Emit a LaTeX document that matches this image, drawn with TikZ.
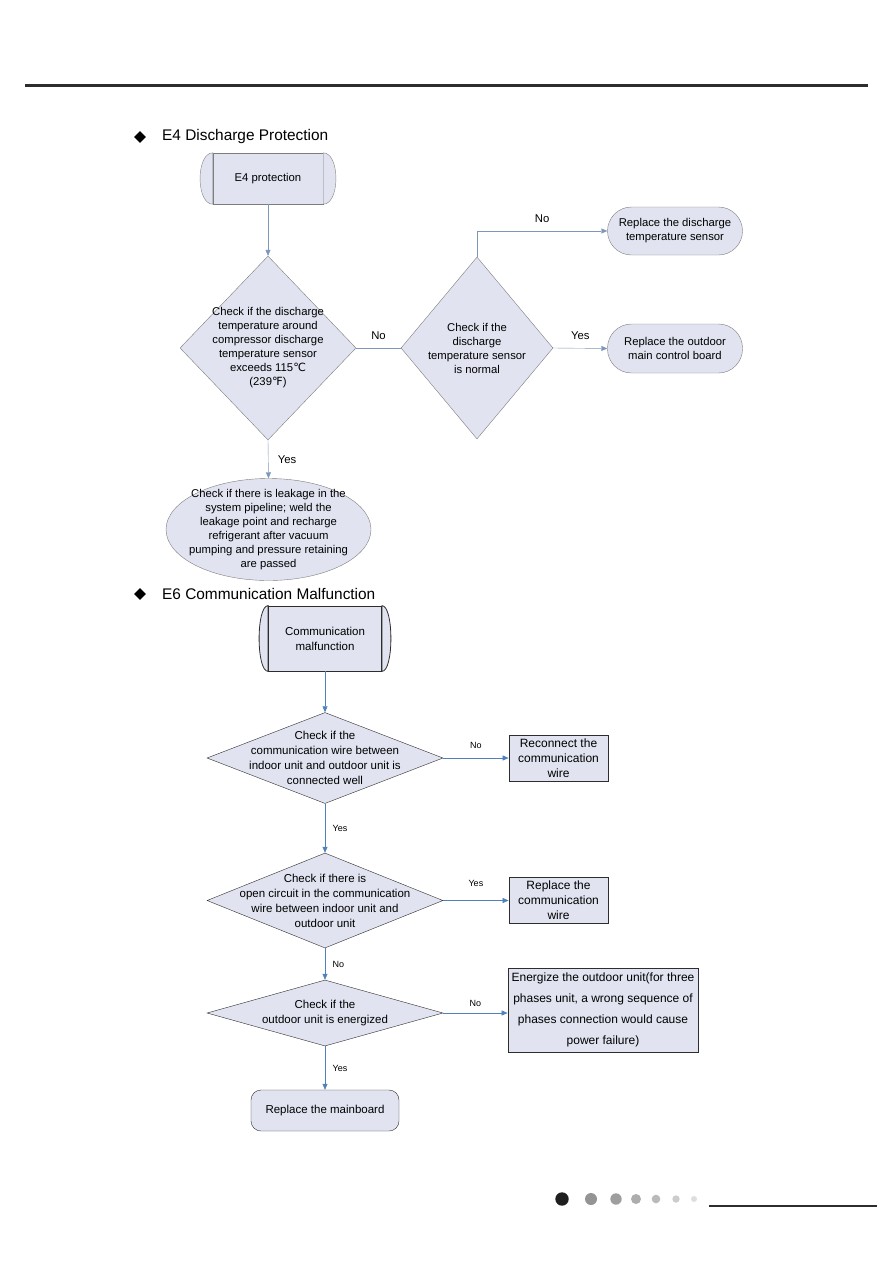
\documentclass[tikz,border=0pt]{standalone}
\usepackage{fontspec}
\setmainfont{Liberation Sans}
\newfontfamily\symfont{DejaVu Sans}
\usetikzlibrary{shapes.geometric,arrows.meta,positioning}

\definecolor{box_fill}{RGB}{225,228,240}
\definecolor{edge_gray}{RGB}{125,125,125}
\definecolor{edge_dark}{RGB}{45,45,45}
\definecolor{flow_blue}{RGB}{79,129,189}
\definecolor{flow_gray}{RGB}{125,150,185}

\begin{document}
\begin{tikzpicture}[
    x=1pt, y=-1pt,
    every node/.style={font=\fontsize{11.3}{14}\selectfont},
    bullet/.style={diamond, fill=black, inner sep=0pt, minimum size=12pt},
    title/.style={anchor=west, inner sep=0pt, font=\fontsize{15.4}{18}\selectfont},
    term/.style={rectangle, draw=edge_gray, fill=box_fill, align=center},
    dec/.style={diamond, draw=edge_gray, fill=box_fill, inner sep=-60pt, align=center},
    stad/.style={rectangle, rounded corners=24pt, draw=edge_gray, fill=box_fill,
                 align=center, minimum width=135pt, minimum height=48pt},
    act/.style={rectangle, draw=edge_dark, thick, fill=box_fill, align=center},
    lbl/.style={text=black, font=\fontsize{11.3}{13}\selectfont},
    slbl/.style={text=black, font=\fontsize{9}{11}\selectfont},
    flow/.style={->, >={Triangle[length=6pt,width=5pt]}, flow_gray},
    flowb/.style={->, >={Triangle[length=6pt,width=5pt]}, flow_blue, semithick}
]
    \useasboundingbox (0,0) rectangle (893,1263);

    % page rule
    \draw[line width=3pt, edge_dark] (25,85) -- (868,85);

    % E4 section
    \node[bullet] (b1) at (140,137) {};
    \node[title] (t1) at (162,137) {E4 Discharge Protection};

    \node[term, minimum width=110pt, minimum height=51pt] (e4) at (268,178.5) {E4 protection};
    \draw[edge_gray, fill=box_fill]
        (e4.north west) .. controls +(-17,0) and +(-17,0) .. (e4.south west) -- cycle;
    \draw[edge_gray, fill=box_fill]
        (e4.north east) .. controls +(17,0) and +(17,0) .. (e4.south east) -- cycle;

    \node[dec, minimum width=176pt, minimum height=184pt] (d1) at (268,348)
        {Check if the discharge\\temperature around\\compressor discharge\\
         temperature sensor\\exceeds 115{\symfont ℃}\\(239{\symfont ℉})};
    \node[dec, minimum width=152pt, minimum height=182pt] (d2) at (477,348)
        {Check if the\\discharge\\temperature sensor\\is normal};

    \node[stad] (r1) at (675,231) {Replace the discharge\\temperature sensor};
    \node[stad, minimum height=49pt] (r2) at (675,348.5) {Replace the outdoor\\main control board};

    \node[ellipse, draw=edge_gray, fill=box_fill, inner sep=-40pt, align=center,
          minimum width=205pt, minimum height=102pt] (leak) at (268.5,529.5)
        {Check if there is leakage in the\\system pipeline; weld the\\leakage point and recharge\\
         refrigerant after vacuum\\pumping and pressure retaining\\are passed};

    \draw[flow] (e4.south) -- (d1.north);
    \draw[flow_gray] (d1.east) -- node[lbl, above=5pt] {No} (d2.west);
    \draw[flow] (d2.north) |- node[lbl, pos=0.75, above=5pt] {No} (r1.west);
    \draw[flow] (d2.east) -- node[lbl, above=5pt] {Yes} (r2.west);
    \draw[flow] (d1.south) -- node[lbl, right=6pt] {Yes} (leak.north);

    % E6 section
    \node[bullet] (b2) at (140,594) {};
    \node[title] (t2) at (162,594) {E6 Communication Malfunction};

    \node[term, draw=edge_dark, thick, minimum width=113pt, minimum height=65pt,
          font=\fontsize{11.5}{15}\selectfont] (cm) at (325,638.5) {Communication\\malfunction};
    \draw[edge_dark, thick, fill=box_fill]
        (cm.north west) .. controls +(-12,0) and +(-12,0) .. (cm.south west) -- cycle;
    \draw[edge_dark, thick, fill=box_fill]
        (cm.north east) .. controls +(12,0) and +(12,0) .. (cm.south east) -- cycle;

    \node[dec, draw=edge_dark, minimum width=236pt, minimum height=91pt,
          font=\fontsize{11.5}{15}\selectfont] (d3) at (325,758)
        {Check if the\\communication wire between\\indoor unit and outdoor unit is\\connected well};
    \node[act, minimum width=99pt, minimum height=46pt,
          font=\fontsize{12}{15}\selectfont] (rw1) at (558.5,758)
        {Reconnect the\\communication\\wire};

    \node[dec, draw=edge_dark, minimum width=236pt, minimum height=95pt,
          font=\fontsize{11.5}{15}\selectfont] (d4) at (325,900.5)
        {Check if there is\\open circuit in the communication\\wire between indoor unit and\\outdoor unit};
    \node[act, minimum width=99pt, minimum height=45pt,
          font=\fontsize{12}{15}\selectfont] (rw2) at (558.5,900.5)
        {Replace the\\communication\\wire};

    \node[dec, draw=edge_dark, minimum width=236pt, minimum height=66pt,
          font=\fontsize{11.5}{15}\selectfont] (d5) at (325,1013)
        {Check if the\\outdoor unit is energized};
    \node[act, minimum width=190pt, minimum height=84pt, inner xsep=1pt,
          font=\fontsize{12}{21}\selectfont] (en) at (603,1010)
        {Energize the outdoor unit(for three\\phases unit, a wrong sequence of\\
         phases connection would cause\\power failure)};

    \node[term, draw=edge_dark, rounded corners=10pt, minimum width=148pt, minimum height=41pt,
          font=\fontsize{11.5}{15}\selectfont] (mb) at (325,1110.5) {Replace the mainboard};

    \draw[flowb] (cm.south) -- (d3.north);
    \draw[flowb] (d3.east) -- node[slbl, above=6pt] {No} (rw1.west);
    \draw[flowb] (d3.south) -- node[slbl, right=4pt] {Yes} (d4.north);
    \draw[flowb] (d4.east) -- node[slbl, above=10pt] {Yes} (rw2.west);
    \draw[flowb] (d4.south) -- node[slbl, right=4pt] {No} (d5.north);
    \draw[flowb] (d5.east) -- node[slbl, above=3pt] {No} (d5.east -| en.west);
    \draw[flowb] (d5.south) -- node[slbl, right=4pt] {Yes} (mb.north);

    % page footer
    \foreach \xx/\rr/\gg in {562/6.7/88, 591/6/42, 616/5.7/38, 636/5/32, 656/4.3/27, 676/3.7/20, 694/3/13}
        \fill[black!\gg] (\xx,1199) circle[radius=\rr];
    \draw[line width=2.2pt, edge_dark] (709,1206) -- (877,1206);

\end{tikzpicture}
\end{document}
